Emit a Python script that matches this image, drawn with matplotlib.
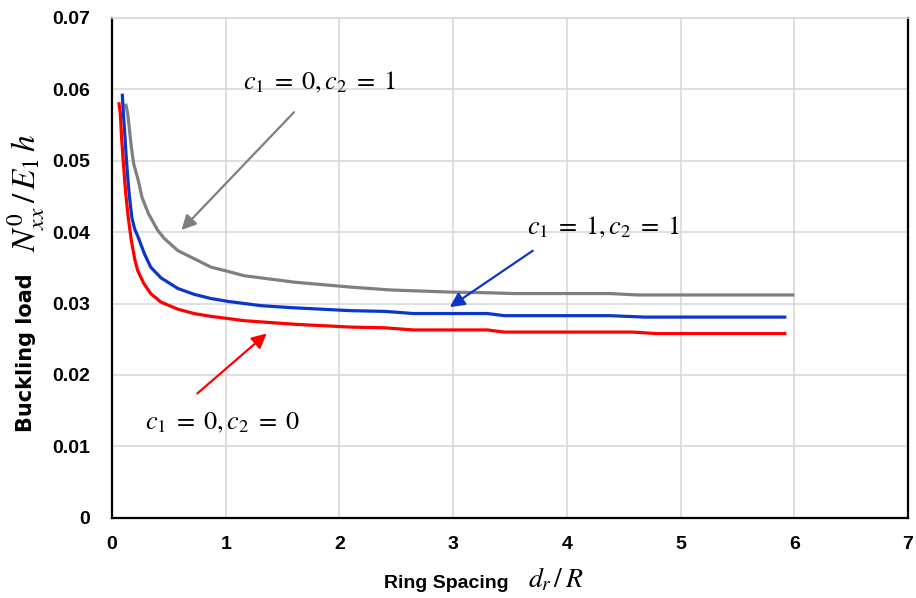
import numpy as np
import matplotlib
matplotlib.use("Agg")
import matplotlib.pyplot as plt

plt.rcParams['font.family'] = ['Liberation Sans', 'DejaVu Sans']
plt.rcParams['mathtext.fontset'] = 'stix'

# c1 = 0, c2 = 1 (gray)
x_gray = [0.12, 0.138, 0.17, 0.19, 0.23, 0.263, 0.32, 0.40, 0.46, 0.58, 0.72, 0.87,
          1.02, 1.16, 1.60, 2.10, 2.45, 2.98, 3.33, 3.53, 4.12, 4.38, 4.62, 6.00]
y_gray = [0.0580, 0.0566, 0.0519, 0.0496, 0.0473, 0.0449, 0.0426, 0.0403, 0.0391,
          0.0374, 0.0363, 0.0351, 0.0345, 0.0339, 0.0330, 0.0323, 0.0319, 0.0316,
          0.0315, 0.0314, 0.0314, 0.0314, 0.0312, 0.0312]

# c1 = 1, c2 = 1 (blue)
x_blue = [0.09, 0.10, 0.11, 0.125, 0.14, 0.155, 0.175, 0.20, 0.23, 0.284, 0.34, 0.43,
          0.58, 0.72, 0.87, 1.02, 1.31, 1.60, 2.10, 2.40, 2.65, 3.30, 3.45, 4.38,
          4.68, 5.93]
y_blue = [0.0594, 0.0566, 0.0543, 0.0505, 0.0473, 0.0447, 0.0420, 0.0404, 0.0393,
          0.0370, 0.0351, 0.0336, 0.0321, 0.0313, 0.0307, 0.0303, 0.0297, 0.0294,
          0.0290, 0.0289, 0.0286, 0.0286, 0.0283, 0.0283, 0.0281, 0.0281]

# c1 = 0, c2 = 0 (red)
x_red = [0.06, 0.073, 0.085, 0.10, 0.12, 0.143, 0.17, 0.20, 0.226, 0.28, 0.34, 0.43,
         0.58, 0.72, 0.87, 1.02, 1.16, 1.60, 2.10, 2.40, 2.65, 3.30, 3.45, 4.58,
         4.78, 5.93]
y_red = [0.0582, 0.0566, 0.0530, 0.0496, 0.0455, 0.0420, 0.0388, 0.0362, 0.0346,
         0.0328, 0.0314, 0.0302, 0.0292, 0.0286, 0.0282, 0.0279, 0.0276, 0.0271,
         0.0267, 0.0266, 0.0263, 0.0263, 0.0260, 0.0260, 0.0258, 0.0258]

x_ticks = [0, 1, 2, 3, 4, 5, 6, 7]
y_ticks = [0, 0.01, 0.02, 0.03, 0.04, 0.05, 0.06, 0.07]

gray = '#7f7f7f'
blue = '#0a37c8'
red = '#ff0000'

fig = plt.figure(figsize=(9.16, 5.98), dpi=100)
ax = fig.add_axes([0.1223, 0.1343, 0.8690, 0.8356])

ax.plot(x_gray, y_gray, color=gray, lw=2.3, solid_capstyle='butt', solid_joinstyle='round')
ax.plot(x_blue, y_blue, color=blue, lw=2.3, solid_capstyle='butt', solid_joinstyle='round')
ax.plot(x_red, y_red, color=red, lw=2.3, solid_capstyle='butt', solid_joinstyle='round')

ax.set_xlim(0, 7)
ax.set_ylim(0, 0.07)
ax.set_xticks(x_ticks)
ax.set_yticks(y_ticks)
ax.set_xticklabels([str(t) for t in x_ticks], fontweight='bold', fontsize=14)
ax.set_yticklabels(['0'] + ['%.2f' % t for t in y_ticks[1:]], fontweight='bold', fontsize=14)
ax.tick_params(length=0, pad=13)
ax.tick_params(axis='y', pad=16)

ax.grid(True, color='#d9d9d9', lw=1.2)
ax.set_axisbelow(True)
for side in ['left', 'bottom', 'right']:
    ax.spines[side].set_color('black')
    ax.spines[side].set_linewidth(1.6)
ax.spines['top'].set_color('#d9d9d9')
ax.spines['top'].set_linewidth(1.2)

# axis labels: bold words plus a larger math part
fig.text(446 / 916, 1 - 583 / 598, 'Ring Spacing', fontweight='bold', fontsize=14,
         ha='center', va='center')
fig.text(556 / 916, 1 - 580 / 598, r'$d_r\,/\,R$', fontsize=20, ha='center', va='center')
fig.text(26 / 916, 1 - 353 / 598, 'Buckling load', fontweight='bold', fontsize=15,
         family='DejaVu Sans', ha='center', va='center', rotation=90)
fig.text(26 / 916, 1 - 193 / 598, r'$N^{0}_{xx}\,/\,E_1\,h$', fontsize=24,
         ha='center', va='center', rotation=90)

arrow = dict(arrowstyle='-|>', lw=1.6, mutation_scale=22, shrinkA=0, shrinkB=0)
ax.annotate('', xy=(0.61, 0.0403), xytext=(1.60, 0.0568),
            arrowprops=dict(arrow, color=gray))
ax.annotate('', xy=(2.97, 0.0295), xytext=(3.70, 0.0374),
            arrowprops=dict(arrow, color=blue))
ax.annotate('', xy=(1.36, 0.0258), xytext=(0.75, 0.0174),
            arrowprops=dict(arrow, color=red))

lab_kw = dict(fontsize=19, ha='center', va='center')
ax.text(1.82, 0.0610, r'$c_1\;=\;0,c_2\;=\;1$', **lab_kw)
ax.text(4.32, 0.0407, r'$c_1\;=\;1,c_2\;=\;1$', **lab_kw)
ax.text(0.97, 0.0133, r'$c_1\;=\;0,c_2\;=\;0$', **lab_kw)

fig.savefig('out.png', dpi=100)
